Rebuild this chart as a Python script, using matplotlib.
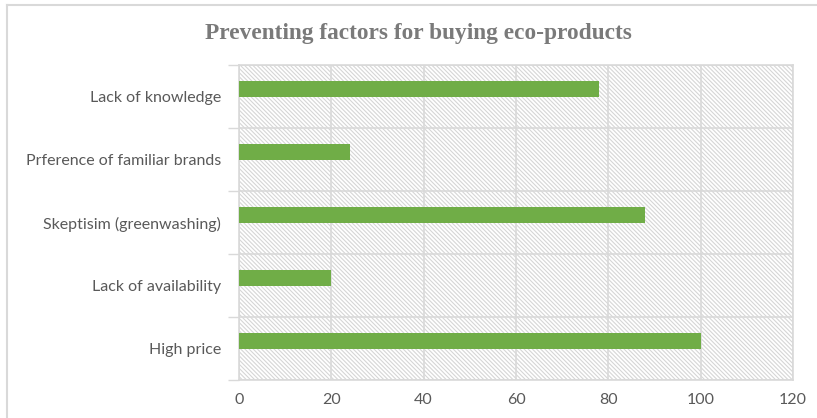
import matplotlib
matplotlib.use("Agg")
import matplotlib.pyplot as plt
from matplotlib.patches import Rectangle
from matplotlib.lines import Line2D
import numpy as np

# Data (bottom to top)
categories = ["High price", "Lack of availability", "Skeptisim (greenwashing)",
              "Prference of familiar brands", "Lack of knowledge"]
values = [100, 20, 88, 24, 78]
x_ticks = [0, 20, 40, 60, 80, 100, 120]

title = "Preventing factors for buying eco-products"

label_color = "#595959"
grid_color = "#d9d9d9"
bar_color = "#70ad47"

plt.rcParams["hatch.linewidth"] = 0.8

fig = plt.figure(figsize=(8.17, 4.18), dpi=100)
ax = fig.add_axes([239 / 817, 1 - 380 / 418, (793 - 239) / 817, (380 - 65) / 418])

# hatched plot background
ax.add_patch(Rectangle((0, 0), 1, 1, transform=ax.transAxes, facecolor="white",
                       edgecolor="#d6d6d6", hatch="\\" * 8, linewidth=0, zorder=0))

ypos = np.arange(len(categories))
ax.barh(ypos, values, height=0.24, align="edge", color=bar_color, zorder=3)

ax.set_xlim(0, 120)
ax.set_ylim(-0.5, len(categories) - 0.5)

ax.set_xticks(x_ticks)
ax.set_xticklabels([str(t) for t in x_ticks])
ax.set_yticks(ypos)
ax.set_yticklabels(categories)
ax.set_yticks(np.arange(-0.5, len(categories), 1.0), minor=True)

ax.tick_params(axis="x", length=0, pad=9, labelsize=11.5, labelcolor=label_color)
ax.tick_params(axis="y", which="major", length=0, pad=13, labelsize=11.5, labelcolor=label_color)
ax.tick_params(axis="y", which="minor", length=8, width=1, color=grid_color, direction="out")

ax.grid(axis="x", color=grid_color, linewidth=1.2, zorder=1)
ax.grid(axis="y", which="minor", color=grid_color, linewidth=1.2, zorder=1)
ax.set_axisbelow(True)

for s in ax.spines.values():
    s.set_color(grid_color)
    s.set_linewidth(1.2)

for lbl in ax.get_xticklabels() + ax.get_yticklabels():
    lbl.set_fontfamily("Lato")

fig.text(418 / 817, 1 - 33 / 418, title, ha="center", va="center",
         fontsize=16.8, fontweight="bold", family="Liberation Serif", color="#7a7a7a")

# outer chart frame (top and left edges)
fig.add_artist(Line2D([7 / 817, 1.0], [1 - 5 / 418, 1 - 5 / 418],
                      transform=fig.transFigure, color=grid_color, linewidth=1.5))
fig.add_artist(Line2D([7 / 817, 7 / 817], [0.0, 1 - 5 / 418],
                      transform=fig.transFigure, color=grid_color, linewidth=1.5))

fig.savefig("out.png", dpi=100, facecolor="white")
